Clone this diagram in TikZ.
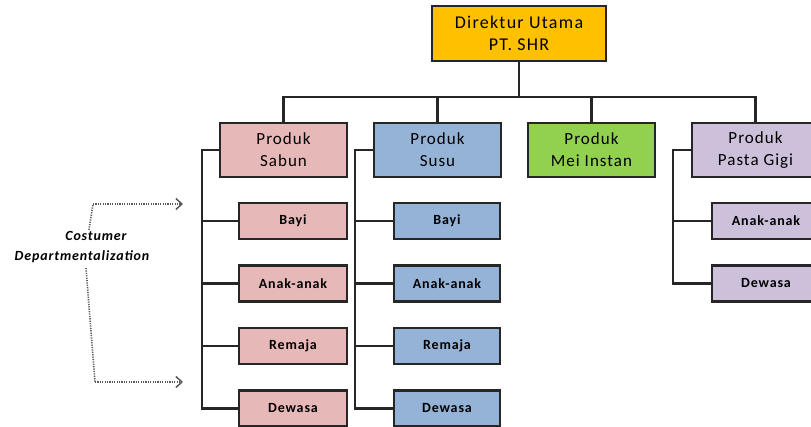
\documentclass[tikz,border=0pt]{standalone}
\usepackage{fontspec}
\setmainfont{Carlito}
\usetikzlibrary{arrows.meta}
\definecolor{boxline}{HTML}{262626}
\definecolor{gold}{HTML}{FFC000}
\definecolor{pinkfill}{HTML}{E6B9B8}
\definecolor{bluefill}{HTML}{95B3D7}
\definecolor{greenfill}{HTML}{92D050}
\definecolor{lilacfill}{HTML}{CCC0DA}
\begin{document}
\begin{tikzpicture}[x=1pt,y=-1pt,
  box/.style={draw=boxline,line width=2.2pt,align=center,inner sep=0pt},
  topbox/.style={box,fill=gold,minimum width=174pt,minimum height=55pt,
    font=\fontsize{18}{22}\selectfont\addfontfeature{LetterSpace=7}},
  prodbox/.style={box,minimum width=127pt,minimum height=54pt,
    font=\fontsize{17}{22}\selectfont\addfontfeature{LetterSpace=6}},
  subbox/.style={box,minimum width=108pt,minimum height=36pt,
    font=\fontsize{14}{15}\selectfont\bfseries\addfontfeature{LetterSpace=6}},
  link/.style={draw=boxline,line width=2.2pt},
  note/.style={draw=black!65,line width=1.6pt,dash pattern=on 1.2pt off 1.2pt},
  notetip/.style={-{Straight Barb[length=6pt,width=11pt,line width=1.5pt]}}
]
\useasboundingbox (0,0) rectangle (811,427);

% top management
\node[topbox] (top) at (519,33.5) {Direktur Utama\\PT. SHR};

% product divisions
\node[prodbox,fill=pinkfill]  (sabun) at (283.5,150) {Produk\\Sabun};
\node[prodbox,fill=bluefill]  (susu)  at (437.5,150) {Produk\\Susu};
\node[prodbox,fill=greenfill] (mie)   at (591.5,150) {Produk\\Mei Instan};
\node[prodbox,fill=lilacfill] (gigi)  at (755.5,150) {Produk\\Pasta Gigi};

% customer groups per product
\foreach \n/\t/\y in {1/Bayi/221,2/Anak-anak/283.5,3/Remaja/346,4/Dewasa/408.5}{
  \node[subbox,fill=pinkfill] (sa\n) at (293,\y) {\t};
  \node[subbox,fill=bluefill,minimum width=106pt] (su\n) at (447,\y) {\t};
}
\node[subbox,fill=lilacfill] (gi1) at (766,221) {Anak-anak};
\node[subbox,fill=lilacfill] (gi2) at (766,283.5) {Dewasa};

% bus from the director to the divisions
\coordinate (bus) at (519,97);
\draw[link] (top.south) -- (bus);
\draw[link] (sabun.north) |- (bus) -| (gigi.north);
\draw[link] (susu.north) -- (susu.north |- bus);
\draw[link] (mie.north) -- (mie.north |- bus);

% spines to the customer groups
\coordinate (sp1) at (202,150);
\coordinate (sp2) at (355,150);
\coordinate (sp4) at (673,150);
\draw[link] (sabun.west) -- (sp1) |- (sa4.west);
\foreach \n in {1,2,3} \draw[link] (sa\n.west) -- (sa\n.west -| sp1);
\draw[link] (susu.west) -- (sp2) |- (su4.west);
\foreach \n in {1,2,3} \draw[link] (su\n.west) -- (su\n.west -| sp2);
\draw[link] (gigi.west) -- (sp4) |- (gi2.west);
\draw[link] (gi1.west) -- (gi1.west -| sp4);

% annotation
\node[font=\fontsize{14}{20}\selectfont\bfseries\itshape\addfontfeature{LetterSpace=6},align=center]
  (cd) at (82,247) {\hspace*{28pt}Costumer\\Departmentalization};
\coordinate (c1) at (89,230);
\coordinate (c2) at (93,204);
\coordinate (a1) at (183,204);
\coordinate (c3) at (86,268);
\coordinate (c4) at (95,382);
\coordinate (a2) at (183,382);
\draw[note] (c1) -- (c2);
\draw[note,notetip] (c2) -- (a1);
\draw[note] (c3) -- (c4);
\draw[note,notetip] (c4) -- (a2);
\end{tikzpicture}
\end{document}
